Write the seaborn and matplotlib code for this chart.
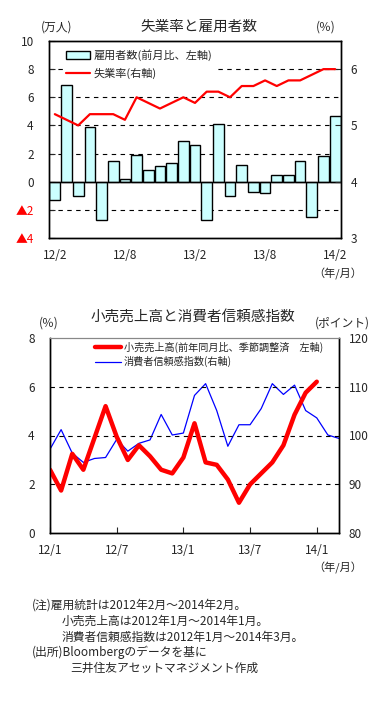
import numpy as np
import pandas as pd
import matplotlib
matplotlib.use("Agg")
import matplotlib.pyplot as plt
import seaborn as sns
from matplotlib.lines import Line2D
from matplotlib.patches import Patch

# ---------------- data ----------------
emp_months = ["12/2", "12/3", "12/4", "12/5", "12/6", "12/7", "12/8", "12/9", "12/10",
              "12/11", "12/12", "13/1", "13/2", "13/3", "13/4", "13/5", "13/6", "13/7",
              "13/8", "13/9", "13/10", "13/11", "13/12", "14/1", "14/2"]
emp_change = [-1.3, 6.9, -1.0, 3.9, -2.7, 1.5, 0.2, 1.9, 0.8, 1.1, 1.3, 2.9, 2.6,
              -2.7, 4.1, -1.0, 1.2, -0.7, -0.8, 0.5, 0.5, 1.5, -2.5, 1.8, 4.7]
unemp_rate = [5.2, 5.1, 5.0, 5.2, 5.2, 5.2, 5.1, 5.5, 5.4, 5.3, 5.4, 5.5, 5.4,
              5.6, 5.6, 5.5, 5.7, 5.7, 5.8, 5.7, 5.8, 5.8, 5.9, 6.0, 6.0]
top_xticklabels = ["12/2", "12/8", "13/2", "13/8", "14/2"]
top_left_ticks = [10, 8, 6, 4, 2, 0, -2, -4]
top_left_labels = ["10", "8", "6", "4", "2", "0", "▲2", "▲4"]
top_right_ticks = [3, 4, 5, 6]

retail_sales = [2.6, 1.75, 3.25, 2.6, 3.9, 5.2, 3.95, 3.0, 3.6, 3.15, 2.6, 2.45, 3.1,
                4.5, 2.9, 2.8, 2.2, 1.25, 2.0, 2.45, 2.9, 3.6, 4.85, 5.75, 6.2]
confidence = [97.2, 101.2, 96.4, 94.5, 95.3, 95.5, 99.2, 96.8, 98.4, 99.1, 104.3, 100.1,
              100.5, 108.2, 110.6, 105.1, 97.8, 102.2, 102.2, 105.5, 110.6, 108.4, 110.3,
              105.1, 103.6, 100.1, 99.4]
bot_xticklabels = ["12/1", "12/7", "13/1", "13/7", "14/1"]

notes = [
    "(注)雇用統計は2012年2月～2014年2月。",
    "小売売上高は2012年1月～2014年1月。",
    "消費者信頼感指数は2012年1月～2014年3月。",
    "(出所)Bloombergのデータを基に",
    "三井住友アセットマネジメント作成",
]

# ---------------- style ----------------
sns.set_style("white")
plt.rcParams["font.family"] = ["Noto Sans CJK JP", "DejaVu Sans"]

W, H = 387, 707
fig = plt.figure(figsize=(W / 100, H / 100), dpi=100)


def fx(x):
    return x / W


def fy(y):
    return 1 - y / H


BAR_COLOR = "#CCFFFF"
GRID = dict(color="black", lw=0.8, linestyle=(0, (4, 4)))

# ================= top chart =================
ax = fig.add_axes([fx(49), fy(238), (341 - 49) / W, (238 - 41) / H])
df_emp = pd.DataFrame({"month": emp_months, "change": emp_change, "rate": unemp_rate})
sns.barplot(data=df_emp, x="month", y="change", ax=ax, color=BAR_COLOR,
            edgecolor="black", linewidth=1.0, width=0.92, saturation=1, zorder=2)
ax.set_xlim(-0.5, len(emp_months) - 0.5)
ax.set_ylim(-4, 10)
for g in [8, 6, 4, 2, -2]:
    ax.axhline(g, zorder=0, **GRID)
ax.axhline(0, color="black", lw=1.0, zorder=3)
ax.set_yticks(top_left_ticks)
ax.set_yticklabels(top_left_labels)
for lab in ax.get_yticklabels():
    if lab.get_text().startswith("▲"):
        lab.set_color("red")
ax.set_xticks([emp_months.index(m) for m in top_xticklabels])
ax.set_xticklabels(top_xticklabels)
ax.tick_params(axis="x", length=0, pad=8, labelsize=8.5)
ax.tick_params(axis="y", direction="in", length=4, width=0.8, pad=11, labelsize=8.5, left=True)
ax.set_xlabel("")
ax.set_ylabel("")
for s in ax.spines.values():
    s.set_color("black")
    s.set_linewidth(1.0)

ax2 = ax.twinx()
sns.lineplot(x=np.arange(len(unemp_rate)), y=unemp_rate, ax=ax2, color="red", lw=1.6)
ax2.set_ylim(3, 6.5)
ax2.set_yticks(top_right_ticks)
ax2.tick_params(axis="y", direction="in", length=4, width=0.8, pad=7, labelsize=8.5, right=True)
ax2.set_ylabel("")
for s in ax2.spines.values():
    s.set_color("black")
    s.set_linewidth(1.0)

handles = [Patch(facecolor=BAR_COLOR, edgecolor="black", linewidth=1.0),
           Line2D([], [], color="red", lw=1.6)]
leg = ax2.legend(handles, ["雇用者数(前月比、左軸)", "失業率(右軸)"], loc="upper left",
                 bbox_to_anchor=(0.03, 0.997), frameon=True, fontsize=8,
                 handlelength=2.2, handleheight=0.8, handletextpad=0.3, labelspacing=0.6,
                 borderpad=0.2, fancybox=False)
leg.get_frame().set_facecolor("white")
leg.get_frame().set_edgecolor("none")
leg.get_frame().set_alpha(1)

fig.text(fx(199), fy(27), "失業率と雇用者数", ha="center", va="center", fontsize=10.5)
fig.text(fx(57), fy(27), "(万人)", ha="center", va="center", fontsize=8.5)
fig.text(fx(326), fy(27), "(％)", ha="center", va="center", fontsize=8.5)
fig.text(fx(338), fy(274), "（年/月）", ha="center", va="center", fontsize=8)

# ================= bottom chart =================
bx = fig.add_axes([fx(50), fy(533.3), (339 - 50) / W, (533.3 - 337.7) / H])
bx2 = bx.twinx()
bx.set_zorder(bx2.get_zorder() + 1)
bx.patch.set_visible(False)

sns.lineplot(x=np.arange(len(confidence)), y=confidence, ax=bx2, color="blue", lw=0.9)
sns.lineplot(x=np.arange(len(retail_sales)), y=retail_sales, ax=bx, color="red", lw=3.2)

bx.set_xlim(0, len(confidence) - 1)
bx.set_ylim(0, 8)
bx2.set_ylim(80, 120)
for g in [2, 4, 6]:
    bx.axhline(g, zorder=0, **GRID)
bx.set_yticks([0, 2, 4, 6, 8])
bx2.set_yticks([80, 90, 100, 110, 120])
bx.set_xticks([0, 6, 12, 18, 24])
bx.set_xticklabels(bot_xticklabels)
bx.tick_params(axis="x", direction="in", length=4, width=0.8, pad=8, labelsize=8.5, bottom=True)
bx.tick_params(axis="y", direction="in", length=0, pad=11, labelsize=8.5)
bx2.tick_params(axis="y", direction="in", length=0, pad=7, labelsize=8.5)
bx.set_xlabel("")
bx.set_ylabel("")
bx2.set_ylabel("")
for a in (bx, bx2):
    for name, s in a.spines.items():
        s.set_color("black")
        s.set_linewidth(1.0)
    a.spines["top"].set_color("#888888")
    a.spines["top"].set_linewidth(0.8)
    a.spines["top"].set_linestyle((0, (1, 1)))

bhandles = [Line2D([], [], color="red", lw=3.2), Line2D([], [], color="blue", lw=0.9)]
bleg = bx.legend(bhandles, ["小売売上高(前年同月比、季節調整済　左軸)", "消費者信頼感指数(右軸)"],
                 loc="upper left", bbox_to_anchor=(0.13, 1.017), frameon=False, fontsize=7.3,
                 handlelength=2.6, handletextpad=0.3, labelspacing=0.35, borderpad=0.2)

fig.text(fx(193), fy(317), "小売売上高と消費者信頼感指数", ha="center", va="center", fontsize=10.5)
fig.text(fx(48.5), fy(323), "(％)", ha="center", va="center", fontsize=8.5)
fig.text(fx(342), fy(323), "(ポイント)", ha="center", va="center", fontsize=8.5)
fig.text(fx(338), fy(568), "（年/月）", ha="center", va="center", fontsize=8)

# ================= notes =================
note_pos = [(32, 605), (62, 621), (62, 637), (32, 652), (70, 668)]
for (x, y), t in zip(note_pos, notes):
    fig.text(fx(x), fy(y), t, ha="left", va="center", fontsize=8.5)

fig.savefig("out.png", dpi=100, facecolor="white")
